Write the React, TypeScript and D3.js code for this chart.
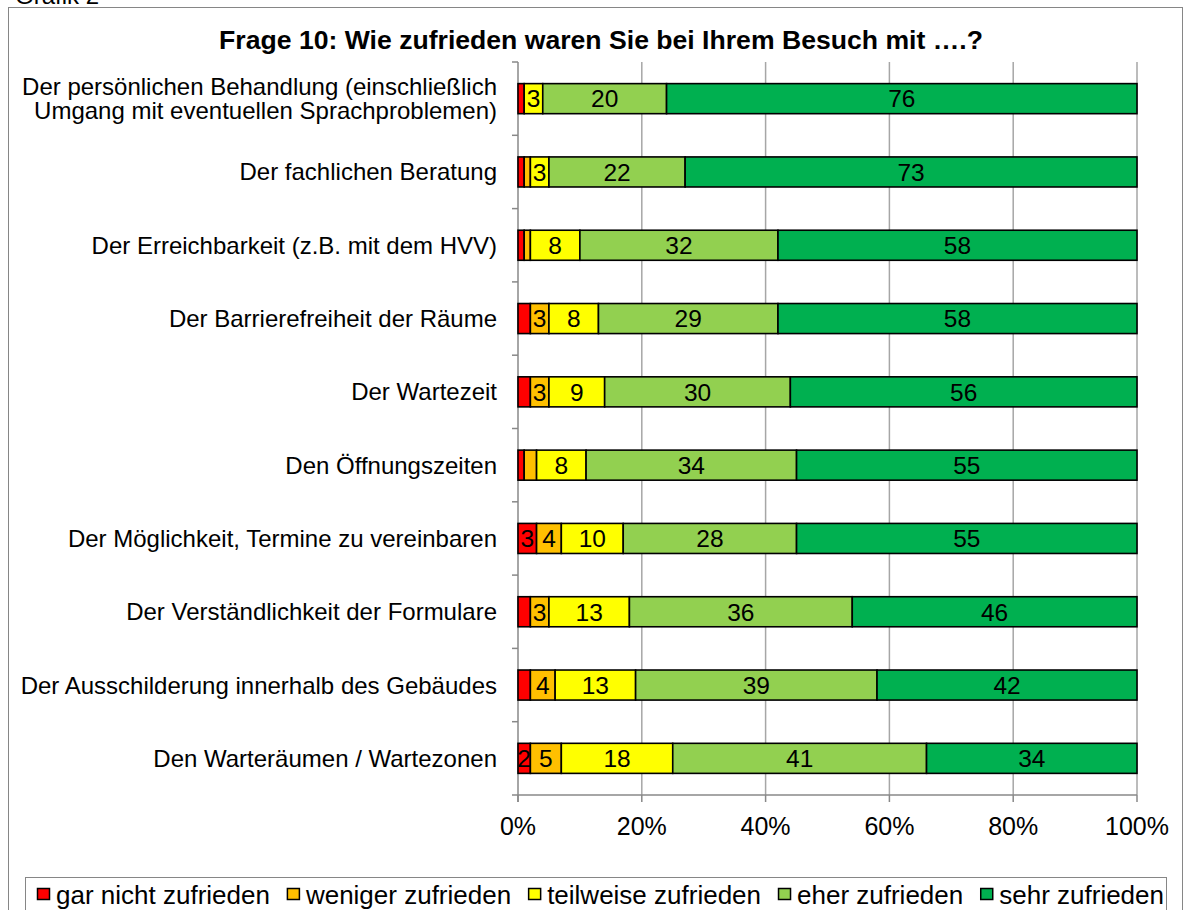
import React from 'react';
import * as d3 from 'd3';

// Frage 10 – Zufriedenheit, Angaben in Prozent
const categories = [
  'Der persönlichen Behandlung (einschließlich\nUmgang mit eventuellen Sprachproblemen)',
  'Der fachlichen Beratung',
  'Der Erreichbarkeit (z.B. mit dem HVV)',
  'Der Barrierefreiheit der Räume',
  'Der Wartezeit',
  'Den Öffnungszeiten',
  'Der Möglichkeit, Termine zu vereinbaren',
  'Der Verständlichkeit der Formulare',
  'Der Ausschilderung innerhalb des Gebäudes',
  'Den Warteräumen / Wartezonen',
];

const seriesNames = ['gar nicht zufrieden', 'weniger zufrieden', 'teilweise zufrieden', 'eher zufrieden', 'sehr zufrieden'];
const seriesColors = ['#FF0000', '#FFC000', '#FFFF00', '#92D050', '#00B050'];

const garNicht = [1, 1, 1, 2, 2, 1, 3, 2, 2, 2];
const weniger = [0, 1, 1, 3, 3, 2, 4, 3, 4, 5];
const teilweise = [3, 3, 8, 8, 9, 8, 10, 13, 13, 18];
const eher = [20, 22, 32, 29, 30, 34, 28, 36, 39, 41];
const sehr = [76, 73, 58, 58, 56, 55, 55, 46, 42, 34];

// small segments that still carry a label in the original
const forcedLabels = [[9, 0]];

const xTicks = [0, 0.2, 0.4, 0.6, 0.8, 1];

const W = 1184;
const H = 910;
const plot = { left: 518, right: 1137, top: 62, bottom: 795 };
const FONT = "'Liberation Sans', Arial, sans-serif";

function textWidth(str: string, font: string) {
  const c = document.createElement('canvas').getContext('2d');
  if (!c) return str.length * 12;
  c.font = font;
  return c.measureText(str).width;
}

export default function App() {
  const series = [garNicht, weniger, teilweise, eher, sehr];
  const rows = categories.map((c, i) => {
    const o: any = { cat: c };
    series.forEach((s, k) => { o['s' + k] = s[i]; });
    return o;
  });
  const stack = d3.stack().keys(series.map((_, k) => 's' + k))(rows);

  const x = d3.scaleLinear().domain([0, 100]).range([plot.left, plot.right]);
  const y = d3.scaleBand().domain(categories).range([plot.top, plot.bottom]).paddingInner(0.59).paddingOuter(0.295);
  const band = d3.scaleBand().domain(categories).range([plot.top, plot.bottom]);

  // legend layout, spread between the measured ends
  const legSize = 26;
  const legFont = `${legSize}px ${FONT}`;
  const widths = seriesNames.map(n => 14 + 5 + textWidth(n, legFont));
  const legLeft = 37, legRight = 1164;
  const gap = (legRight - legLeft - d3.sum(widths)) / (seriesNames.length - 1);
  let acc = legLeft;
  const legX = widths.map(w => { const v = acc; acc += w + gap; return v; });

  return (
    <div style={{ position: 'absolute', left: 0, top: 0 }}>
      <svg width={W} height={H} style={{ display: 'block', background: '#fff' }} fontFamily={FONT}>
        <text x={15} y={4} fontSize={24} fill="#000">Grafik 2</text>
        <rect x={8.5} y={7.5} width={1174} height={910} fill="none" stroke="#868686" strokeWidth={1} />

        <text x={601} y={49} textAnchor="middle" fontSize={26.6} fontWeight="bold">
          Frage 10: Wie zufrieden waren Sie bei Ihrem Besuch mit ….?
        </text>

        {/* gridlines */}
        {xTicks.slice(1).map(t => (
          <line key={t} x1={x(t * 100)} x2={x(t * 100)} y1={plot.top} y2={plot.bottom} stroke="#A6A6A6" strokeWidth={1.5} />
        ))}

        {/* axes */}
        <line x1={plot.left} x2={plot.left} y1={plot.top} y2={plot.bottom + 7} stroke="#888" strokeWidth={1.5} />
        {categories.map(c => (
          <line key={c} x1={plot.left - 6} x2={plot.left} y1={band(c)!} y2={band(c)!} stroke="#888" strokeWidth={1.5} />
        ))}
        <line x1={plot.left - 6} x2={plot.right} y1={plot.bottom} y2={plot.bottom} stroke="#888" strokeWidth={1.5} />
        {xTicks.map(t => (
          <g key={t}>
            <line x1={x(t * 100)} x2={x(t * 100)} y1={plot.bottom} y2={plot.bottom + 7} stroke="#888" strokeWidth={1.5} />
            <text x={x(t * 100)} y={835} textAnchor="middle" fontSize={25}>{d3.format('.0%')(t)}</text>
          </g>
        ))}

        {/* category labels */}
        {categories.map(c => {
          const lines = c.split('\n');
          const cy = y(c)! + y.bandwidth() / 2;
          return (
            <text key={c} x={497} textAnchor="end" fontSize={24}>
              {lines.map((l, j) => (
                <tspan key={j} x={497} y={cy + 8.5 + (j - (lines.length - 1) / 2) * 24}>{l}</tspan>
              ))}
            </text>
          );
        })}

        {/* bars */}
        {stack.map((s, k) => (
          <g key={k}>
            {s.map((d, i) => {
              const v = d[1] - d[0];
              if (v <= 0) return null;
              const x0 = x(d[0]), x1 = x(d[1]);
              const yy = y(categories[i])!;
              const show = v >= 3 || forcedLabels.some(f => f[0] === i && f[1] === k);
              return (
                <g key={i}>
                  <rect x={x0} y={yy} width={x1 - x0} height={y.bandwidth()} fill={seriesColors[k]} stroke="#000" strokeWidth={1.6} />
                  {show && (
                    <text x={(x0 + x1) / 2} y={yy + y.bandwidth() / 2 + 8.8} textAnchor="middle" fontSize={24.5}>{v}</text>
                  )}
                </g>
              );
            })}
          </g>
        ))}

        {/* legend */}
        <rect x={25.5} y={877.5} width={1141} height={40} fill="#fff" stroke="#868686" strokeWidth={1} />
        {seriesNames.map((n, k) => (
          <g key={n}>
            <rect x={legX[k] + 0.5} y={888.5} width={12} height={11} fill={seriesColors[k]} stroke="#000" strokeWidth={1.5} />
            <text x={legX[k] + 19} y={904} fontSize={legSize}>{n}</text>
          </g>
        ))}
      </svg>
    </div>
  );
}
